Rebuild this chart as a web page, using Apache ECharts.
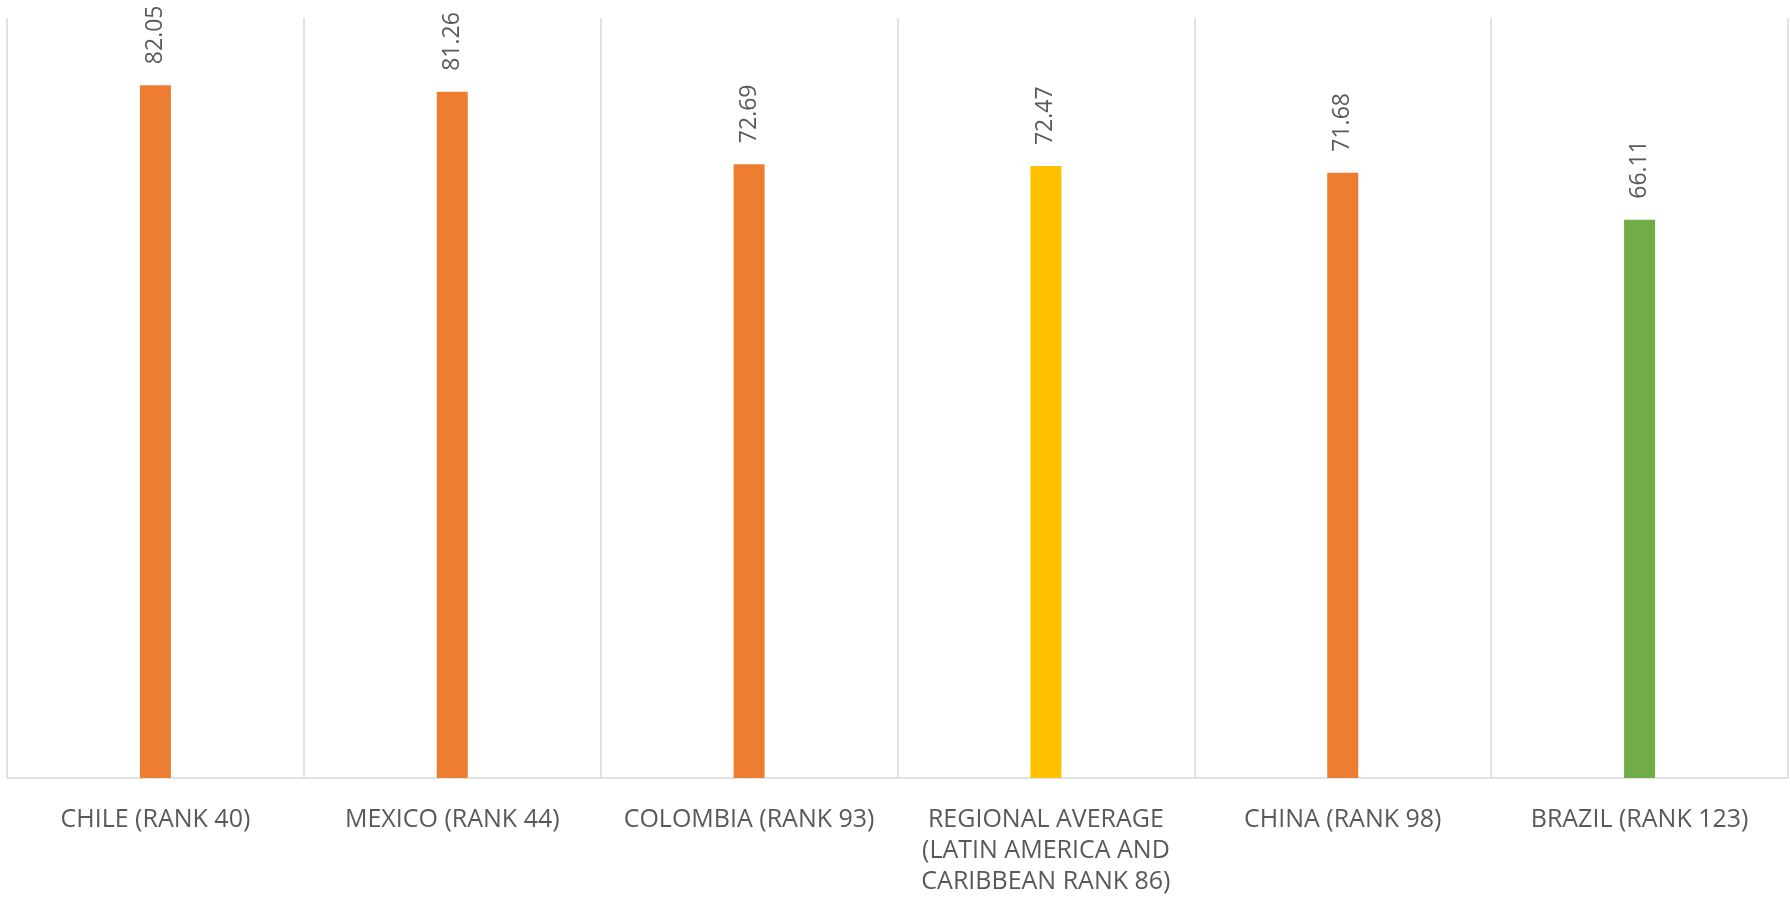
<!DOCTYPE html>
<html>
<head>
<meta charset="utf-8">
<script src="https://cdn.jsdelivr.net/npm/echarts@6/dist/echarts.min.js"></script>
<style>
html,body{margin:0;padding:0;background:#fff;}
#chart{width:1790px;height:901px;}
</style>
</head>
<body>
<div id="chart"></div>
<script>
const categories = [
  'CHILE (RANK 40)',
  'MEXICO (RANK 44)',
  'COLOMBIA (RANK 93)',
  'REGIONAL AVERAGE\n(LATIN AMERICA AND\nCARIBBEAN RANK 86)',
  'CHINA (RANK 98)',
  'BRAZIL (RANK 123)'
];
const values = [82.05, 81.26, 72.69, 72.47, 71.68, 66.11];
const barColors = ['#ED7D31', '#ED7D31', '#ED7D31', '#FFC000', '#ED7D31', '#70AD47'];

const chart = echarts.init(document.getElementById('chart'), null, {renderer: 'canvas'});
chart.setOption({
  animation: false,
  backgroundColor: '#ffffff',
  grid: {left: 7, right: 2, top: 18, bottom: 123, containLabel: false},
  xAxis: {
    type: 'category',
    data: categories,
    boundaryGap: true,
    axisLine: {show: true, lineStyle: {color: '#d9d9d9', width: 1.5}},
    axisTick: {show: false},
    splitLine: {show: true, interval: 0, lineStyle: {color: '#d9d9d9', width: 1.5}},
    axisLabel: {
      interval: 0,
      margin: 26,
      color: '#595959',
      fontFamily: '"Open Sans", "Noto Sans", sans-serif',
      fontSize: 25,
      lineHeight: 31,
      align: 'center',
      verticalAlign: 'top'
    }
  },
  yAxis: {
    type: 'value',
    min: 0,
    max: 90,
    interval: 10,
    show: false,
    splitLine: {show: false}
  },
  series: [{
    type: 'bar',
    barWidth: 31,
    data: values.map((v, i) => ({value: v, itemStyle: {color: barColors[i]}})),
    label: {
      show: true,
      position: 'top',
      rotate: 90,
      align: 'left',
      verticalAlign: 'middle',
      distance: 21,
      color: '#595959',
      fontFamily: '"Open Sans", "Noto Sans", sans-serif',
      fontSize: 23,
      formatter: p => p.value.toFixed(2)
    }
  }]
});
</script>
</body>
</html>
